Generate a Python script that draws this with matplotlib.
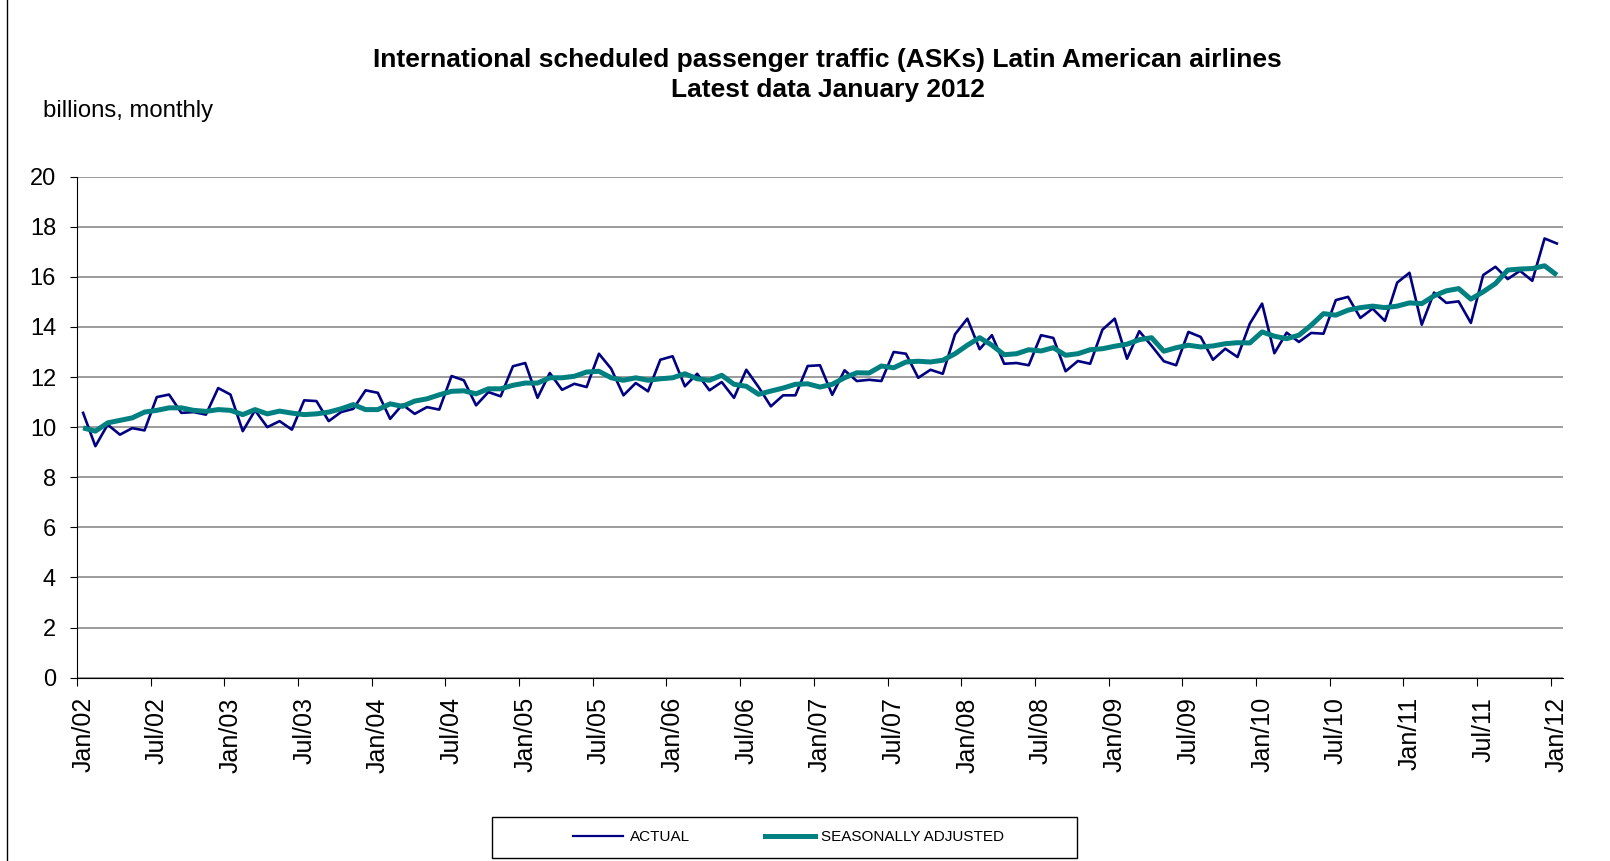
import matplotlib.pyplot as plt
import numpy as np
from matplotlib.lines import Line2D
from matplotlib.patches import Rectangle

plt.rcParams['font.family'] = ['Liberation Sans', 'DejaVu Sans']

# monthly values, Jan/02 .. Jan/12 (billions ASK)
actual = [
    10.57, 9.24, 10.10, 9.70, 9.96, 9.87, 11.20, 11.30, 10.57, 10.60, 10.50, 11.56,
    11.30, 9.84, 10.67, 10.00, 10.24, 9.90, 11.07, 11.04, 10.24, 10.60, 10.73, 11.47,
    11.37, 10.33, 10.90, 10.53, 10.80, 10.70, 12.04, 11.87, 10.87, 11.40, 11.23, 12.43,
    12.56, 11.17, 12.16, 11.49, 11.73, 11.60, 12.93, 12.33, 11.27, 11.76, 11.43, 12.69,
    12.83, 11.63, 12.13, 11.47, 11.80, 11.17, 12.29, 11.60, 10.83, 11.27, 11.27, 12.44,
    12.47, 11.29, 12.27, 11.84, 11.89, 11.84, 13.00, 12.93, 11.97, 12.29, 12.13, 13.71,
    14.33, 13.11, 13.67, 12.53, 12.56, 12.47, 13.67, 13.56, 12.23, 12.64, 12.53, 13.89,
    14.33, 12.73, 13.83, 13.25, 12.63, 12.47, 13.80, 13.60, 12.69, 13.13, 12.80, 14.13,
    14.93, 12.95, 13.77, 13.40, 13.76, 13.73, 15.07, 15.20, 14.36, 14.73, 14.24, 15.77,
    16.16, 14.09, 15.37, 14.96, 15.02, 14.16, 16.07, 16.40, 15.91, 16.24, 15.84, 17.53,
    17.33,
]
seasonally_adjusted = [
    9.97, 9.84, 10.17, 10.27, 10.37, 10.60, 10.67, 10.77, 10.77, 10.67, 10.63, 10.70,
    10.67, 10.50, 10.70, 10.53, 10.64, 10.56, 10.50, 10.53, 10.60, 10.73, 10.90, 10.70,
    10.70, 10.93, 10.83, 11.04, 11.13, 11.29, 11.43, 11.45, 11.33, 11.53, 11.53, 11.67,
    11.76, 11.76, 11.97, 11.97, 12.03, 12.20, 12.23, 11.97, 11.87, 11.97, 11.87, 11.93,
    11.97, 12.13, 11.93, 11.87, 12.07, 11.71, 11.63, 11.31, 11.44, 11.56, 11.71, 11.73,
    11.60, 11.71, 11.97, 12.17, 12.16, 12.44, 12.37, 12.60, 12.63, 12.60, 12.67, 12.93,
    13.27, 13.57, 13.27, 12.89, 12.93, 13.09, 13.04, 13.17, 12.87, 12.93, 13.09, 13.13,
    13.23, 13.31, 13.49, 13.57, 13.03, 13.17, 13.27, 13.20, 13.24, 13.33, 13.37, 13.36,
    13.80, 13.63, 13.53, 13.67, 14.07, 14.53, 14.47, 14.67, 14.77, 14.83, 14.77, 14.83,
    14.96, 14.93, 15.24, 15.44, 15.53, 15.11, 15.40, 15.73, 16.27, 16.31, 16.33, 16.44,
    16.07,
]
tick_labels = ["Jan/02", "Jul/02", "Jan/03", "Jul/03", "Jan/04", "Jul/04", "Jan/05",
               "Jul/05", "Jan/06", "Jul/06", "Jan/07", "Jul/07", "Jan/08", "Jul/08",
               "Jan/09", "Jul/09", "Jan/10", "Jul/10", "Jan/11", "Jul/11", "Jan/12"]

x = np.arange(len(actual))

fig = plt.figure(figsize=(16.1, 8.61), dpi=100)
ax = fig.add_axes([0.0478, 0.2129, 0.9230, 0.5820])

ax.plot(x, actual, color="#000080", lw=1.9)
ax.plot(x, seasonally_adjusted, color="#008080", lw=3.6, solid_capstyle="butt")

ax.set_xlim(-0.5, len(actual) - 0.5)
ax.set_ylim(0, 20)
ax.set_yticks(np.arange(0, 21, 2))
ax.yaxis.grid(True, color="#808080", lw=1.1)
ax.set_axisbelow(True)
for side in ["top", "right"]:
    ax.spines[side].set_visible(False)

ax.set_xticks(np.arange(-0.5, len(actual) - 1, 6), labels=[])
ax.set_xticks(np.arange(0, len(actual), 6), labels=tick_labels, minor=True,
              rotation=90, fontsize=18)
ax.tick_params(axis="x", which="major", length=6, direction="out")
ax.tick_params(axis="x", which="minor", length=0, pad=14)
ax.tick_params(axis="y", labelsize=17, length=5, pad=10)

fig.text(0.514, 0.930, "International scheduled passenger traffic (ASKs) Latin American airlines",
         ha="center", va="center", fontsize=19, fontweight="bold")
fig.text(0.514, 0.895, "Latest data January 2012",
         ha="center", va="center", fontsize=19, fontweight="bold")
fig.text(0.0267, 0.871, "billions, monthly", ha="left", va="center", fontsize=17.2)

handles = [Line2D([], [], color="#000080", lw=1.6),
           Line2D([], [], color="#008080", lw=3.6)]
fig.legend(handles, ["ACTUAL", "SEASONALLY ADJUSTED"], loc="center",
           bbox_to_anchor=(0.4898, 0.0273), ncol=2, frameon=False, fontsize=11,
           handlelength=3.3, columnspacing=4.9, handletextpad=0.4)
fig.patches.append(Rectangle((0.3056, 0.0035), 0.3634, 0.0476, transform=fig.transFigure,
                             fill=False, ec="black", lw=1))
fig.add_artist(Line2D([0.0044, 0.0044], [0, 1], transform=fig.transFigure, color="black", lw=1))

fig.savefig("out.png", dpi=100)
